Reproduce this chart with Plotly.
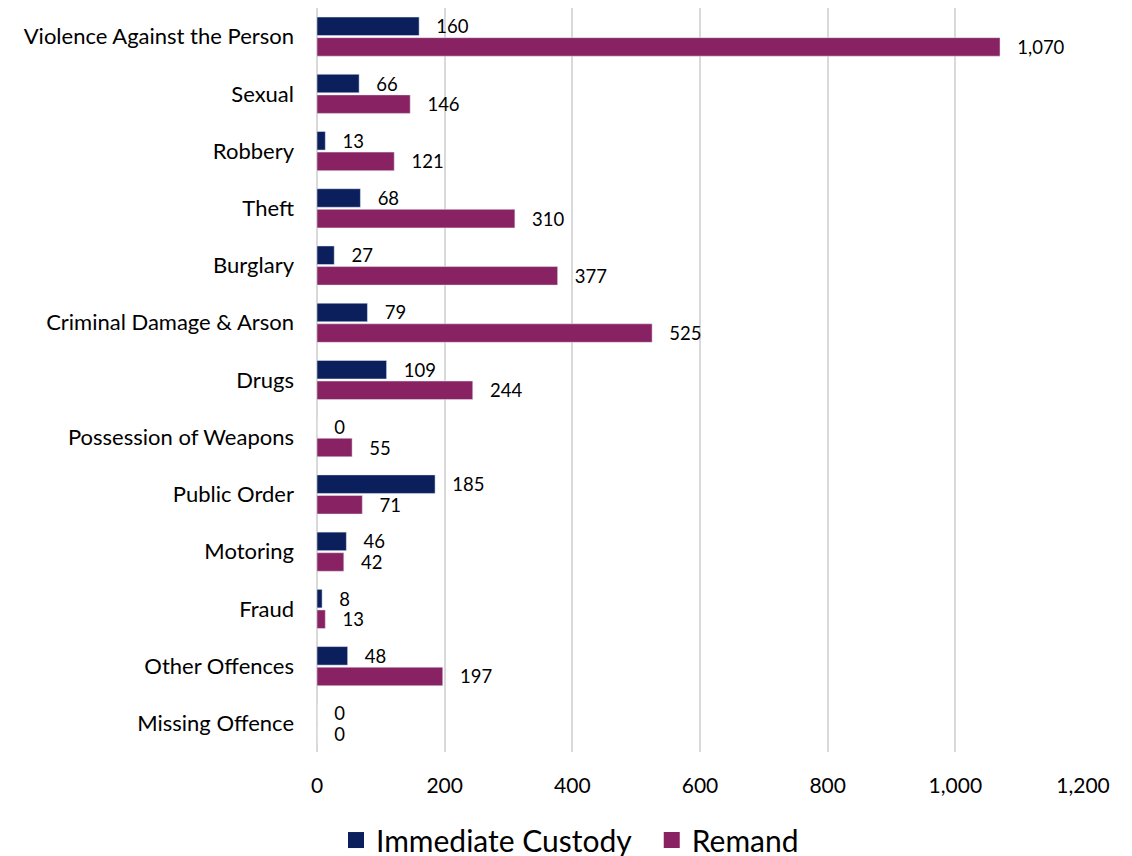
import plotly.graph_objects as go

categories = ["Violence Against the Person", "Sexual", "Robbery", "Theft", "Burglary",
              "Criminal Damage & Arson", "Drugs", "Possession of Weapons", "Public Order",
              "Motoring", "Fraud", "Other Offences", "Missing Offence"]
immediate_custody = [160, 66, 13, 68, 27, 79, 109, 0, 185, 46, 8, 48, 0]
remand = [1070, 146, 121, 310, 377, 525, 244, 55, 71, 42, 13, 197, 0]
x_ticks = [0, 200, 400, 600, 800, 1000, 1200]
series_names = ["Immediate Custody", "Remand"]

FONT = "Lato"
NAVY = "#0B1F5C"
PURPLE = "#892262"
COLORS = [NAVY, PURPLE]

def labels(vals):
    return ["   " + f"{v:,}" for v in vals]

fig = go.Figure()
for name, vals, col in zip(series_names, [immediate_custody, remand], COLORS):
    fig.add_trace(go.Bar(y=categories, x=vals, orientation="h", name=name,
                         marker=dict(color=col), text=labels(vals),
                         textposition="outside", cliponaxis=False, constraintext="none",
                         textfont=dict(family=FONT, size=18.5, color="#000000"),
                         showlegend=False))
# legend entries with large square markers, one legend each for exact placement
for name, col, lg in zip(series_names, COLORS, ["legend", "legend2"]):
    fig.add_trace(go.Scatter(x=[None], y=[None], mode="markers", name=name,
                             marker=dict(symbol="square", size=19, color=col),
                             showlegend=True, legend=lg))

legend_common = dict(orientation="h", xanchor="left", xref="paper",
                     y=0.028, yanchor="middle", yref="container",
                     font=dict(family=FONT, size=30), itemwidth=30)

fig.update_layout(
    width=1132, height=856,
    barmode="group", bargap=0.28, bargroupgap=0.1,
    plot_bgcolor="white", paper_bgcolor="white",
    margin=dict(l=309, r=57, t=0, b=112, autoexpand=False),
    font=dict(family=FONT, size=21, color="#000000"),
    xaxis=dict(range=[0, 1200], tickvals=x_ticks, tickformat=",d", automargin=False,
               showgrid=True, gridcolor="#D9D9D9", gridwidth=2,
               zeroline=True, zerolinecolor="#D9D9D9", zerolinewidth=2,
               showline=False, ticks="", ticklabelstandoff=19,
               tickfont=dict(family=FONT, size=21)),
    yaxis=dict(autorange="reversed", showgrid=False, showline=False, ticks="", automargin=False,
               ticklabelstandoff=22, tickfont=dict(family=FONT, size=22)),
    legend=dict(x=0.0248, **legend_common),
    legend2=dict(x=0.437, **legend_common),
)

fig.write_html("out.html")
